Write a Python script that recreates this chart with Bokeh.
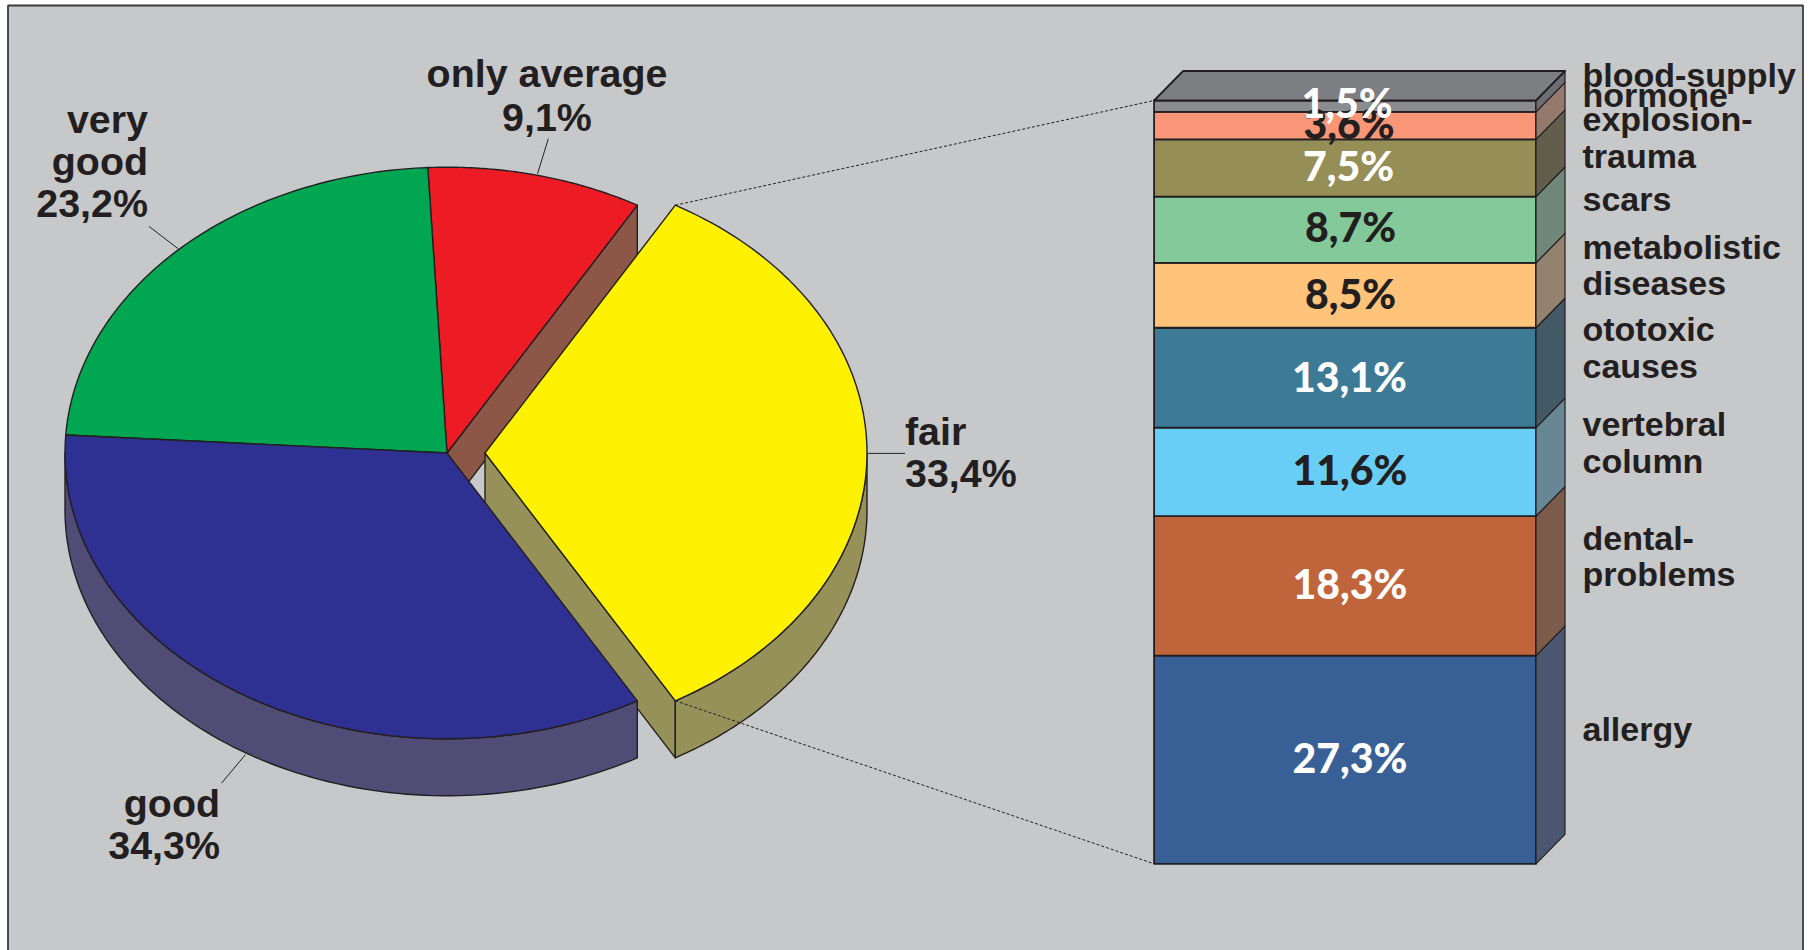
import math
from bokeh.core.properties import value
from bokeh.embed import file_html
from bokeh.models import Range1d
from bokeh.plotting import figure
from bokeh.resources import INLINE

# ---- data ----
pie_names = ["fair", "only average", "very good", "good"]
pie_values = [33.4, 9.1, 23.2, 34.3]
pie_top = ["#FFF200", "#ED1C24", "#00A651", "#2E3192"]
pie_side = ["#969159", "#8C5746", "#00A651", "#504C75"]

stack_names = ["allergy", "dental-problems", "vertebral column", "ototoxic causes",
               "metabolistic diseases", "scars", "explosion-trauma", "explosion", "hormone"]
stack_values = [27.3, 18.3, 11.6, 13.1, 8.5, 8.7, 7.5, 3.6, 1.5]
stack_labels = ["27,3%", "18,3%", "11,6%", "13,1%", "8,5%", "8,7%", "7,5%", "3,6%", "1,5%"]
stack_front = ["#396096", "#C0653B", "#68CEF5", "#3C7A96", "#FFC47A", "#84C99A", "#958E56", "#F99678", "#8A8C8E"]
stack_sides = ["#4B5770", "#7D5B4A", "#688794", "#435966", "#93826D", "#6F8879", "#615F4C", "#94796D", "#6D6E71"]
stack_text = ["#FFFFFF", "#FFFFFF", "#231F20", "#FFFFFF", "#231F20", "#231F20", "#FFFFFF", "#231F20", "#FFFFFF"]
stack_top_colour = "#7D7E82"

INK = "#231F20"
BG = "#C7C8CA"

p = figure(width=1814, height=950, output_backend="svg", toolbar_location=None,
           x_range=Range1d(0, 1814), y_range=Range1d(950, 0),
           min_border=0)
p.axis.visible = False
p.grid.visible = False
p.outline_line_color = None
p.background_fill_color = "#FFFFFF"
p.border_fill_color = "#FFFFFF"

# panel
p.patch([7.5, 1802.5, 1802.5, 7.5], [5, 5, 953, 953], fill_color=BG, line_color="#3A3A3C", line_width=1.8)

# ---- pie ----
CX, CY, RX, RY, DEPTH, EXPLODE = 446.5, 452.5, 382.0, 285.8, 57.0, 38.0


def ell(cx, t):
    r = math.radians(t)
    return cx + RX * math.cos(r), CY - RY * math.sin(r)


def arc(cx, t0, t1, dy=0.0, n=90):
    pts = [ell(cx, t0 + (t1 - t0) * i / n) for i in range(n + 1)]
    return [a for a, _ in pts], [b + dy for _, b in pts]


def shape(xs, ys, fill, lw=1.4):
    p.patch(xs, ys, fill_color=fill, line_color=INK, line_width=lw, line_join="round")


start = -pie_values[0] * 1.8
angles = []
for v in pie_values:
    angles.append((start, start + v * 3.6))
    start += v * 3.6
yellow, red, green, blue = angles

# brown cut face of the slice behind the gap
cx_r, cy_r = ell(CX, red[0])
shape([CX, cx_r, cx_r, CX], [CY, cy_r, cy_r + DEPTH, CY + DEPTH], pie_side[1])

# olive cut face and rim of the exploded slice
ycx = CX + EXPLODE
bx, by = ell(ycx, yellow[0])
shape([ycx, bx, bx, ycx], [CY, by, by + DEPTH, CY + DEPTH], pie_side[0])
xa, ya = arc(ycx, yellow[0], 0)
xb, yb = arc(ycx, 0, yellow[0], DEPTH)
shape(xa + xb, ya + yb, pie_side[0])

# rim of the blue slice
xa, ya = arc(CX, 180, blue[1])
xb, yb = arc(CX, blue[1], 180, DEPTH)
shape(xa + xb, ya + yb, pie_side[3])

# top faces
for (t0, t1), col in zip([red, green, blue], [pie_top[1], pie_top[2], pie_top[3]]):
    xa, ya = arc(CX, t0, t1)
    shape([CX] + xa, [CY] + ya, col)

# connectors
tx, ty = ell(ycx, yellow[1])
FX0, FX1, FY0, FY1, SKX, SKY = 1153.6, 1535.5, 100.0, 863.3, 29.0, 29.5
p.line([bx, FX0], [by, FY1], line_color=INK, line_width=1, line_dash="3 2")
p.line([tx, FX0], [ty, FY0], line_color=INK, line_width=1, line_dash="3 2")

xa, ya = arc(ycx, yellow[0], yellow[1])
shape([ycx] + xa, [CY] + ya, pie_top[0])

# leader lines
for xs, ys in [([547.8, 537], [138.3, 173.3]), ([148.7, 177.7], [226, 248.3]),
               ([221, 245], [782.7, 754]), ([867.8, 904.5], [452.9, 452.9])]:
    p.line(xs, ys, line_color=INK, line_width=1)

# ---- stacked column ----
total = sum(stack_values)
scale = (FY1 - FY0) / total
y = FY1
bounds = []
for v in stack_values:
    bounds.append((y, y - v * scale))
    y -= v * scale

for (y0, y1), f, s in zip(bounds, stack_front, stack_sides):
    shape([FX0, FX1, FX1, FX0], [y0, y0, y1, y1], f, 1.8)
    shape([FX1, FX1 + SKX, FX1 + SKX, FX1], [y0, y0 - SKY, y1 - SKY, y1], s, 1.2)
shape([FX0, FX1, FX1 + SKX, FX0 + SKX], [FY0, FY0, FY0 - SKY, FY0 - SKY], stack_top_colour, 1.8)

# ---- texts ----
def texts(xs, ys, labels, align, colour=INK, font="Liberation Sans", size="39px"):
    p.text(xs, ys, text=labels, text_align=align, text_baseline="alphabetic",
           text_color=colour, text_font=value(font), text_font_style="bold", text_font_size=size)


texts([546.5, 546.5], [72, 116], ["only average", "9,1%"], "center", size="39.4px")
texts([147.5, 147.5, 147.5], [118, 160, 202], ["very", "good", "23,2%"], "right", size="39.4px")
texts([904.5, 904.5], [430, 472], ["fair", "33,4%"], "left", size="39.4px")
texts([219.5, 219.5], [802, 844], ["good", "34,3%"], "right", size="39.4px")

side_labels = ["blood-supply", "hormone", "explosion-", "trauma", "scars", "metabolistic", "diseases",
               "ototoxic", "causes", "vertebral", "column", "dental-", "problems", "allergy"]
side_base = [74, 94, 118, 155, 198, 246, 282, 328, 365, 423, 460, 537, 573, 728]
texts([1582] * len(side_labels), side_base, side_labels, "left", size="34px")

value_base = [756.5, 582.5, 468.5, 375.5, 292.5, 226, 164.5, 122.5, 101.5]
value_x = [1349.5, 1349.5, 1349.5, 1349, 1350, 1350, 1348, 1348.5, 1346.5]
for lab, b, c, vx in zip(stack_labels, value_base, stack_text, value_x):
    texts([vx], [b], [lab], "center", colour=c, font="Lato Black", size="41px")

open("out.html", "w").write(file_html(p, INLINE))
